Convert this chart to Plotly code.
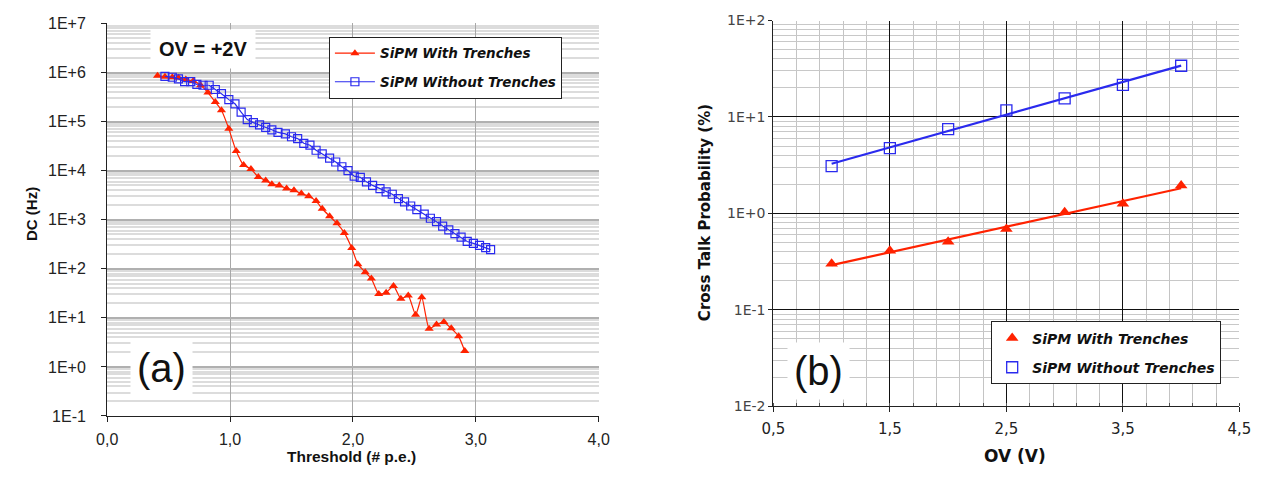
import numpy as np
import plotly.graph_objects as go

# ---------------- data: panel (a) ----------------
thr_with = [0.41, 0.47, 0.53, 0.58, 0.64, 0.70, 0.76, 0.82, 0.88, 0.93, 0.99, 1.05, 1.11, 1.17,
            1.23, 1.29, 1.34, 1.40, 1.46, 1.52, 1.58, 1.64, 1.70, 1.75, 1.81, 1.87, 1.93, 1.99,
            2.04, 2.10, 2.15, 2.21, 2.27, 2.33, 2.39, 2.45, 2.51, 2.56, 2.62, 2.68, 2.74, 2.80,
            2.86, 2.91]
dc_with = [8.6e5, 8.2e5, 8.0e5, 7.8e5, 7.2e5, 6.7e5, 5.5e5, 3.9e5, 2.5e5, 1.7e5, 7.1e4, 2.5e4,
           1.3e4, 1.08e4, 7.4e3, 6.3e3, 5.3e3, 5.0e3, 4.3e3, 4.0e3, 3.4e3, 3.0e3, 2.4e3, 1.67e3,
           1.18e3, 845, 538, 264, 124, 85, 63, 30.6, 32.6, 44.7, 24.4, 28.4, 11.5, 26.3, 6.0,
           7.3, 8.2, 6.1, 4.2, 2.1]

thr_without = [0.47, 0.53, 0.58, 0.63, 0.68, 0.73, 0.78, 0.83, 0.88, 0.93, 0.99, 1.04, 1.09,
               1.14, 1.19, 1.24, 1.29, 1.34, 1.39, 1.45, 1.50, 1.55, 1.60, 1.65, 1.70, 1.75,
               1.81, 1.86, 1.91, 1.96, 2.01, 2.06, 2.11, 2.16, 2.22, 2.27, 2.32, 2.37, 2.42,
               2.47, 2.52, 2.58, 2.63, 2.68, 2.73, 2.78, 2.83, 2.88, 2.93, 2.98, 3.03, 3.08, 3.12]
dc_without = [8.3e5, 8.0e5, 7.4e5, 6.5e5, 6.5e5, 5.7e5, 5.5e5, 5.5e5, 4.5e5, 3.7e5, 2.8e5,
              2.3e5, 1.55e5, 1.1e5, 9.5e4, 8.6e4, 7.6e4, 6.8e4, 6.0e4, 5.6e4, 4.9e4, 4.5e4,
              3.6e4, 3.3e4, 2.6e4, 2.2e4, 1.8e4, 1.5e4, 1.2e4, 1.0e4, 7.7e3, 7.3e3, 5.9e3,
              5.0e3, 4.3e3, 3.7e3, 3.3e3, 2.7e3, 2.3e3, 1.9e3, 1.6e3, 1.3e3, 1.07e3, 910, 740,
              620, 520, 440, 360, 330, 300, 270, 245]

# ---------------- data: panel (b) ----------------
ov = [1.0, 1.5, 2.0, 2.5, 3.0, 3.5, 4.0]
ct_with = [0.30, 0.41, 0.51, 0.69, 1.03, 1.26, 1.95]
ct_without = [3.1, 4.75, 7.5, 11.7, 15.6, 21.5, 34.0]

# tick labels
a_y_vals = [1e-1, 1e0, 1e1, 1e2, 1e3, 1e4, 1e5, 1e6, 1e7]
a_y_text = ["1E-1", "1E+0", "1E+1", "1E+2", "1E+3", "1E+4", "1E+5", "1E+6", "1E+7"]
b_y_vals = [1e-2, 1e-1, 1e0, 1e1, 1e2]
b_y_text = ["1E-2", "1E-1", "1E+0", "1E+1", "1E+2"]

RED = "#ff2200"
BLUE = "#2a2aee"
ARIAL = "Liberation Sans, Arial, sans-serif"
VERD = "DejaVu Sans, Verdana, sans-serif"


def exp_fit(x, y):
    c = np.polyfit(np.asarray(x), np.log10(np.asarray(y)), 1)
    return 10 ** np.polyval(c, np.asarray(x))


fig = go.Figure()

# panel (a)
fig.add_trace(go.Scatter(
    x=thr_with, y=dc_with, mode="lines+markers", name="<b><i>SiPM With Trenches</i></b>",
    line=dict(color=RED, width=1.2, shape="spline", smoothing=0.5),
    marker=dict(symbol="triangle-up", size=8, color=RED),
    xaxis="x", yaxis="y", legend="legend", legendgroup="a1"))
fig.add_trace(go.Scatter(
    x=thr_without, y=dc_without, mode="lines+markers", name="<b><i>SiPM Without Trenches</i></b>",
    line=dict(color=BLUE, width=1.2),
    marker=dict(symbol="square-open", size=8, color=BLUE, line=dict(width=1.2)),
    xaxis="x", yaxis="y", legend="legend", legendgroup="a2"))

# panel (b) fit lines
fig.add_trace(go.Scatter(
    x=ov, y=exp_fit(ov, ct_without), mode="lines", line=dict(color=BLUE, width=2.2),
    showlegend=False, xaxis="x2", yaxis="y2", hoverinfo="skip"))
fig.add_trace(go.Scatter(
    x=ov, y=exp_fit(ov, ct_with), mode="lines", line=dict(color=RED, width=2.2),
    showlegend=False, xaxis="x2", yaxis="y2", hoverinfo="skip"))
# panel (b) markers
fig.add_trace(go.Scatter(
    x=ov, y=ct_with, mode="markers", name="<b><i>SiPM With Trenches</i></b>",
    marker=dict(symbol="triangle-up", size=11, color=RED),
    xaxis="x2", yaxis="y2", legend="legend2", legendgroup="b1"))
fig.add_trace(go.Scatter(
    x=ov, y=ct_without, mode="markers", name="<b><i>SiPM Without Trenches</i></b>",
    marker=dict(symbol="square-open", size=11, color=BLUE, line=dict(width=1.3)),
    xaxis="x2", yaxis="y2", legend="legend2", legendgroup="b2"))

W, H = 1273, 478


def px(x):
    return x / W


def py(y):
    return 1 - y / H


def note(text, x, y, size, family=ARIAL, angle=0, bg=None, pad=1):
    d = dict(text=text, x=px(x), y=py(y), xref="paper", yref="paper",
             xanchor="center", yanchor="middle", showarrow=False, textangle=angle,
             font=dict(family=family, size=size, color="#111"), borderpad=pad)
    if bg:
        d["bgcolor"] = bg
    return d


fig.update_layout(
    width=W, height=H,
    margin=dict(l=0, r=0, t=0, b=0),
    paper_bgcolor="white", plot_bgcolor="white",
    separators=",.",
    font=dict(family=ARIAL, color="#222"),
    xaxis=dict(domain=[px(97), px(598)], range=[0, 4], dtick=1, tick0=0, tickformat=".1f",
               showgrid=True, gridcolor="#a8a8a8", gridwidth=1,
               showline=True, linecolor="#222", linewidth=1.2,
               ticks="outside", ticklen=5, tickcolor="#222", ticklabelstandoff=4,
               tickfont=dict(family=ARIAL, size=16, color="#222"),
               zeroline=False, anchor="y"),
    yaxis=dict(domain=[py(423), py(16)], type="log", range=[-1, 7],
               tickvals=a_y_vals, ticktext=a_y_text,
               showgrid=True, gridcolor="#b0b0b0", gridwidth=1.5,
               minor=dict(dtick="D1", showgrid=True, gridcolor="#dcdcdc", gridwidth=1.5),
               showline=True, linecolor="#222", linewidth=1.2,
               ticks="outside", ticklen=5, tickcolor="#222", ticklabelstandoff=12,
               tickfont=dict(family=ARIAL, size=16, color="#222"),
               zeroline=False, anchor="x"),
    xaxis2=dict(domain=[px(776), px(1251)], range=[0.5, 4.5], dtick=1, tick0=0.5,
                tickformat=".1f",
                showgrid=True, gridcolor="#111", gridwidth=1.2,
                minor=dict(dtick=0.2, tick0=0.5, showgrid=True, gridcolor="#c4c4c4",
                           gridwidth=1.2, ticks="inside", ticklen=3, tickcolor="#555"),
                showline=True, linecolor="#222", linewidth=1.2,
                ticks="outside", ticklen=5, tickcolor="#222", ticklabelstandoff=4,
                tickfont=dict(family=VERD, size=15, color="#222"),
                zeroline=False, anchor="y2"),
    yaxis2=dict(domain=[py(413), py(13)], type="log", range=[-2, 2],
                tickvals=b_y_vals, ticktext=b_y_text,
                showgrid=True, gridcolor="#111", gridwidth=1.2,
                minor=dict(dtick="D1", showgrid=True, gridcolor="#c8c8c8", gridwidth=1.2),
                showline=True, linecolor="#222", linewidth=1.2,
                ticks="outside", ticklen=4, tickcolor="#222",
                tickfont=dict(family=VERD, size=14, color="#444"),
                zeroline=False, anchor="x2"),
    legend=dict(x=px(323), y=py(30), xanchor="left", yanchor="top",
                bgcolor="white", bordercolor="#222", borderwidth=1,
                font=dict(family=VERD, size=13.5, color="#111"),
                traceorder="grouped", tracegroupgap=8, itemwidth=40),
    legend2=dict(x=px(998), y=py(325), xanchor="left", yanchor="top",
                 bgcolor="white", bordercolor="#222", borderwidth=1,
                 font=dict(family=VERD, size=14, color="#111"),
                 traceorder="grouped", tracegroupgap=8, itemwidth=30),
    annotations=[
        note("<b>OV = +2V</b>", 195, 42, 20, bg="white", pad=8),
        note("(a)", 152, 373, 40, bg="white", pad=6),
        note("(b)", 822, 376, 40, bg="white", pad=6),
        note("<b>DC (Hz)</b>", 20, 214, 15, angle=-90),
        note("<b>Threshold (# p.e.)</b>", 346, 465, 15.5),
        note("<b>Cross Talk Probability (%)</b>", 707, 212, 15, family=VERD, angle=-90),
        note("<b>OV (V)</b>", 1022, 465, 17, family=VERD),
    ],
)

fig.write_html("out.html")
